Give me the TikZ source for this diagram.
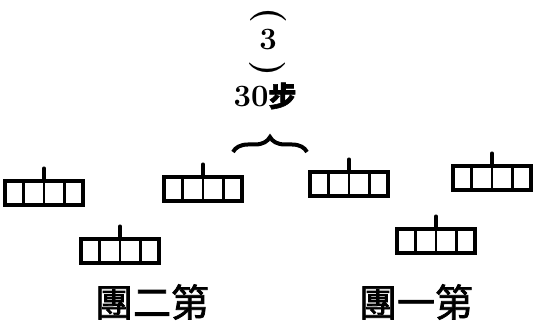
\documentclass[tikz,border=0pt]{standalone}
\usepackage{fontspec}
\newfontfamily\cjk{Noto Sans CJK TC}[FakeBold=2]
\usetikzlibrary{positioning, calc, decorations.pathreplacing}
\tikzset{
  unit/.style={rectangle, draw, line width=3.6pt, minimum width=78pt,
    minimum height=24pt, inner sep=0pt},
  divider/.style={line width=2.8pt},
  pole/.style={line width=3.4pt, line cap=round},
  caption/.style={font=\cjk\fontsize{38}{40}\selectfont, inner sep=0pt},
  mark3/.style={font=\bfseries\fontsize{31}{32}\selectfont, inner sep=0pt},
  arc/.style={font=\bfseries\fontsize{36}{36}\selectfont, inner sep=0pt},
}

\begin{document}
\begin{tikzpicture}[x=1pt, y=-1pt]
    \useasboundingbox (0,0) rectangle (539,328);
    % heading
    \node[arc, rotate=-90] (open) at (268,15) {(};
    \node[mark3] (three) at (268,40) {3};
    \node[arc, rotate=90] (close) at (268,69) {(};
    \node[mark3] (dist) at (265,96) {30{\cjk\fontsize{28}{30}\selectfont 步}};
    \coordinate (bl) at (233,152);
    \coordinate (br) at (307,152);
    \draw[line width=4pt, decorate, decoration={brace, amplitude=15pt}] (bl) -- (br);
    % units
    \node[unit] (u1) at (44,193) {};
    \node[unit] (u2) at (203,189) {};
    \node[unit] (u3) at (349,184) {};
    \node[unit] (u4) at (492,178) {};
    \node[unit] (u5) at (120,251) {};
    \node[unit] (u6) at (436,241) {};
    \foreach \u in {u1,u2,u3,u4,u5,u6} {
      \draw[divider] ($(\u.north west)!0.25!(\u.north east)$) -- ($(\u.south west)!0.25!(\u.south east)$);
      \draw[divider] (\u.north) -- (\u.south);
      \draw[divider] ($(\u.north west)!0.75!(\u.north east)$) -- ($(\u.south west)!0.75!(\u.south east)$);
      \draw[pole] (\u.north) -- ++(0,-11);
    }
    % captions
    \node[caption] (second) at (152,302) {團二第};
    \node[caption] (first) at (416,302) {團一第};
\end{tikzpicture}
\end{document}
